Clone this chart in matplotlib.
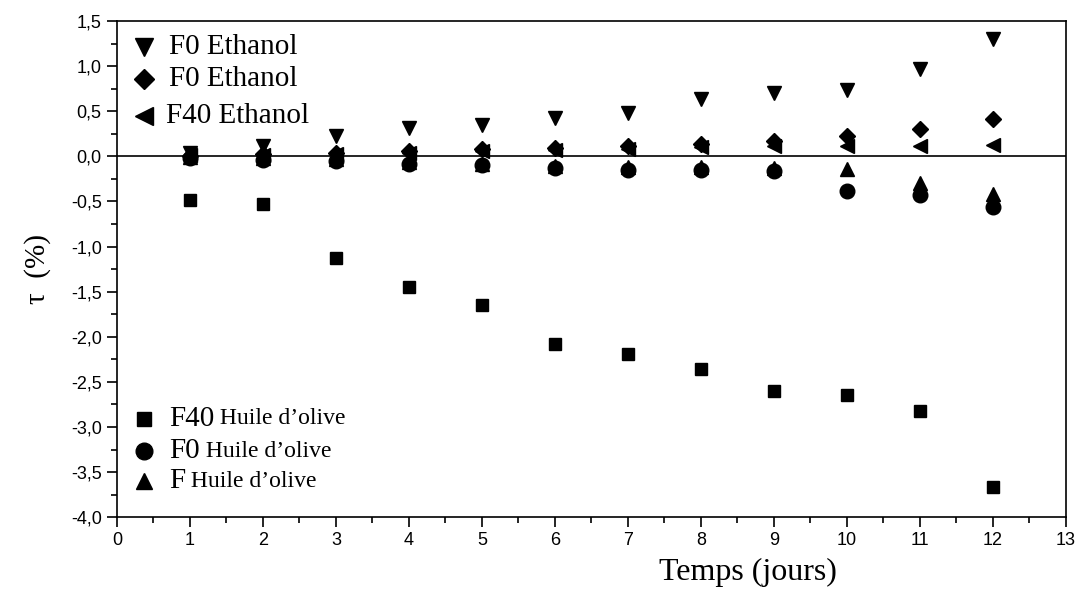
import numpy as np
import matplotlib.pyplot as plt
from matplotlib.ticker import MultipleLocator, FuncFormatter

# jours
days = [1, 2, 3, 4, 5, 6, 7, 8, 9, 10, 11, 12]

# taux (%) par série
f0_ethanol_a = [0.04, 0.12, 0.22, 0.31, 0.35, 0.42, 0.48, 0.63, 0.70, 0.73, 0.97, 1.30]
f0_ethanol_b = [0.00, 0.03, 0.04, 0.06, 0.08, 0.09, 0.11, 0.14, 0.17, 0.22, 0.30, 0.41]
f40_ethanol = [0.02, 0.02, 0.03, 0.04, 0.06, 0.07, 0.08, 0.10, 0.11, 0.11, 0.12, 0.13]
f40_huile = [-0.48, -0.53, -1.13, -1.45, -1.65, -2.08, -2.19, -2.36, -2.60, -2.65, -2.82, -3.67]
f0_huile = [-0.02, -0.04, -0.05, -0.08, -0.10, -0.13, -0.15, -0.15, -0.16, -0.38, -0.43, -0.56]
f_huile = [-0.01, -0.02, -0.03, -0.06, -0.08, -0.11, -0.12, -0.12, -0.13, -0.14, -0.30, -0.42]

SERIF = 'Liberation Serif'
SANS = 'Liberation Sans'

fig = plt.figure(figsize=(10.76, 6), dpi=100)
ax = fig.add_axes([0.1087, 0.138, 0.882, 0.827])

ms = 10.5
ax.plot(days, f0_huile, 'o', color='black', ms=ms)
ax.plot(days, f_huile, '^', color='black', ms=ms)
ax.plot(days, f40_ethanol, '<', color='black', ms=ms)
ax.plot(days, f0_ethanol_b, 'D', color='black', ms=ms - 2)
ax.plot(days, f0_ethanol_a, 'v', color='black', ms=ms)
ax.plot(days, f40_huile, 's', color='black', ms=ms - 2)

ax.axhline(0, color='black', lw=1.2)

ax.set_xlim(0, 13)
ax.set_ylim(-4.0, 1.5)
ax.xaxis.set_major_locator(MultipleLocator(1))
ax.xaxis.set_minor_locator(MultipleLocator(0.5))
ax.yaxis.set_major_locator(MultipleLocator(0.5))
ax.yaxis.set_minor_locator(MultipleLocator(0.25))
ax.yaxis.set_major_formatter(FuncFormatter(lambda v, p: f'{v:.1f}'.replace('.', ',')))
ax.tick_params(which='major', direction='out', length=7, width=1.2, labelsize=13, pad=4)
ax.tick_params(which='minor', direction='out', length=4, width=1.2)
for lab in ax.get_xticklabels() + ax.get_yticklabels():
    lab.set_fontfamily(SANS)
for s in ax.spines.values():
    s.set_linewidth(1.2)

ax.set_xlabel('Temps (jours)', fontsize=23, fontfamily=SERIF)
ax.xaxis.set_label_coords(0.665, -0.082)
ax.set_ylabel('τ  (%)', fontsize=21, fontfamily=SERIF)
ax.yaxis.set_label_coords(-0.07, 0.5)

# légende faite à la main (tailles de police mélangées)
lms = 13
leg_top = [('v', 'F0 Ethanol', 0.948),
           ('D', 'F0 Ethanol', 0.884),
           ('<', 'F40 Ethanol', 0.808)]
for m, t, yy in leg_top:
    ax.plot([0.029], [yy], m, color='black', ms=lms if m != 'D' else lms - 3,
            transform=ax.transAxes, clip_on=False)
    ax.text(0.055 if m != '<' else 0.052, yy, t, transform=ax.transAxes,
            fontsize=21, fontfamily=SERIF, va='center')

leg_bot = [('s', 'F40', 0.198), ('o', 'F0', 0.133), ('^', 'F', 0.072)]
for m, t, yy in leg_bot:
    ax.plot([0.028], [yy], m, color='black', ms=lms - 1 if m != 's' else lms - 3,
            transform=ax.transAxes, clip_on=False)
    txt = ax.text(0.055, yy, t, transform=ax.transAxes,
                  fontsize=21, fontfamily=SERIF, va='center')
    ax.annotate(' Huile d\u2019olive', xycoords=txt, xy=(1, 0.5), va='center',
                fontsize=17, fontfamily=SERIF)

fig.savefig('out.png', dpi=100)
